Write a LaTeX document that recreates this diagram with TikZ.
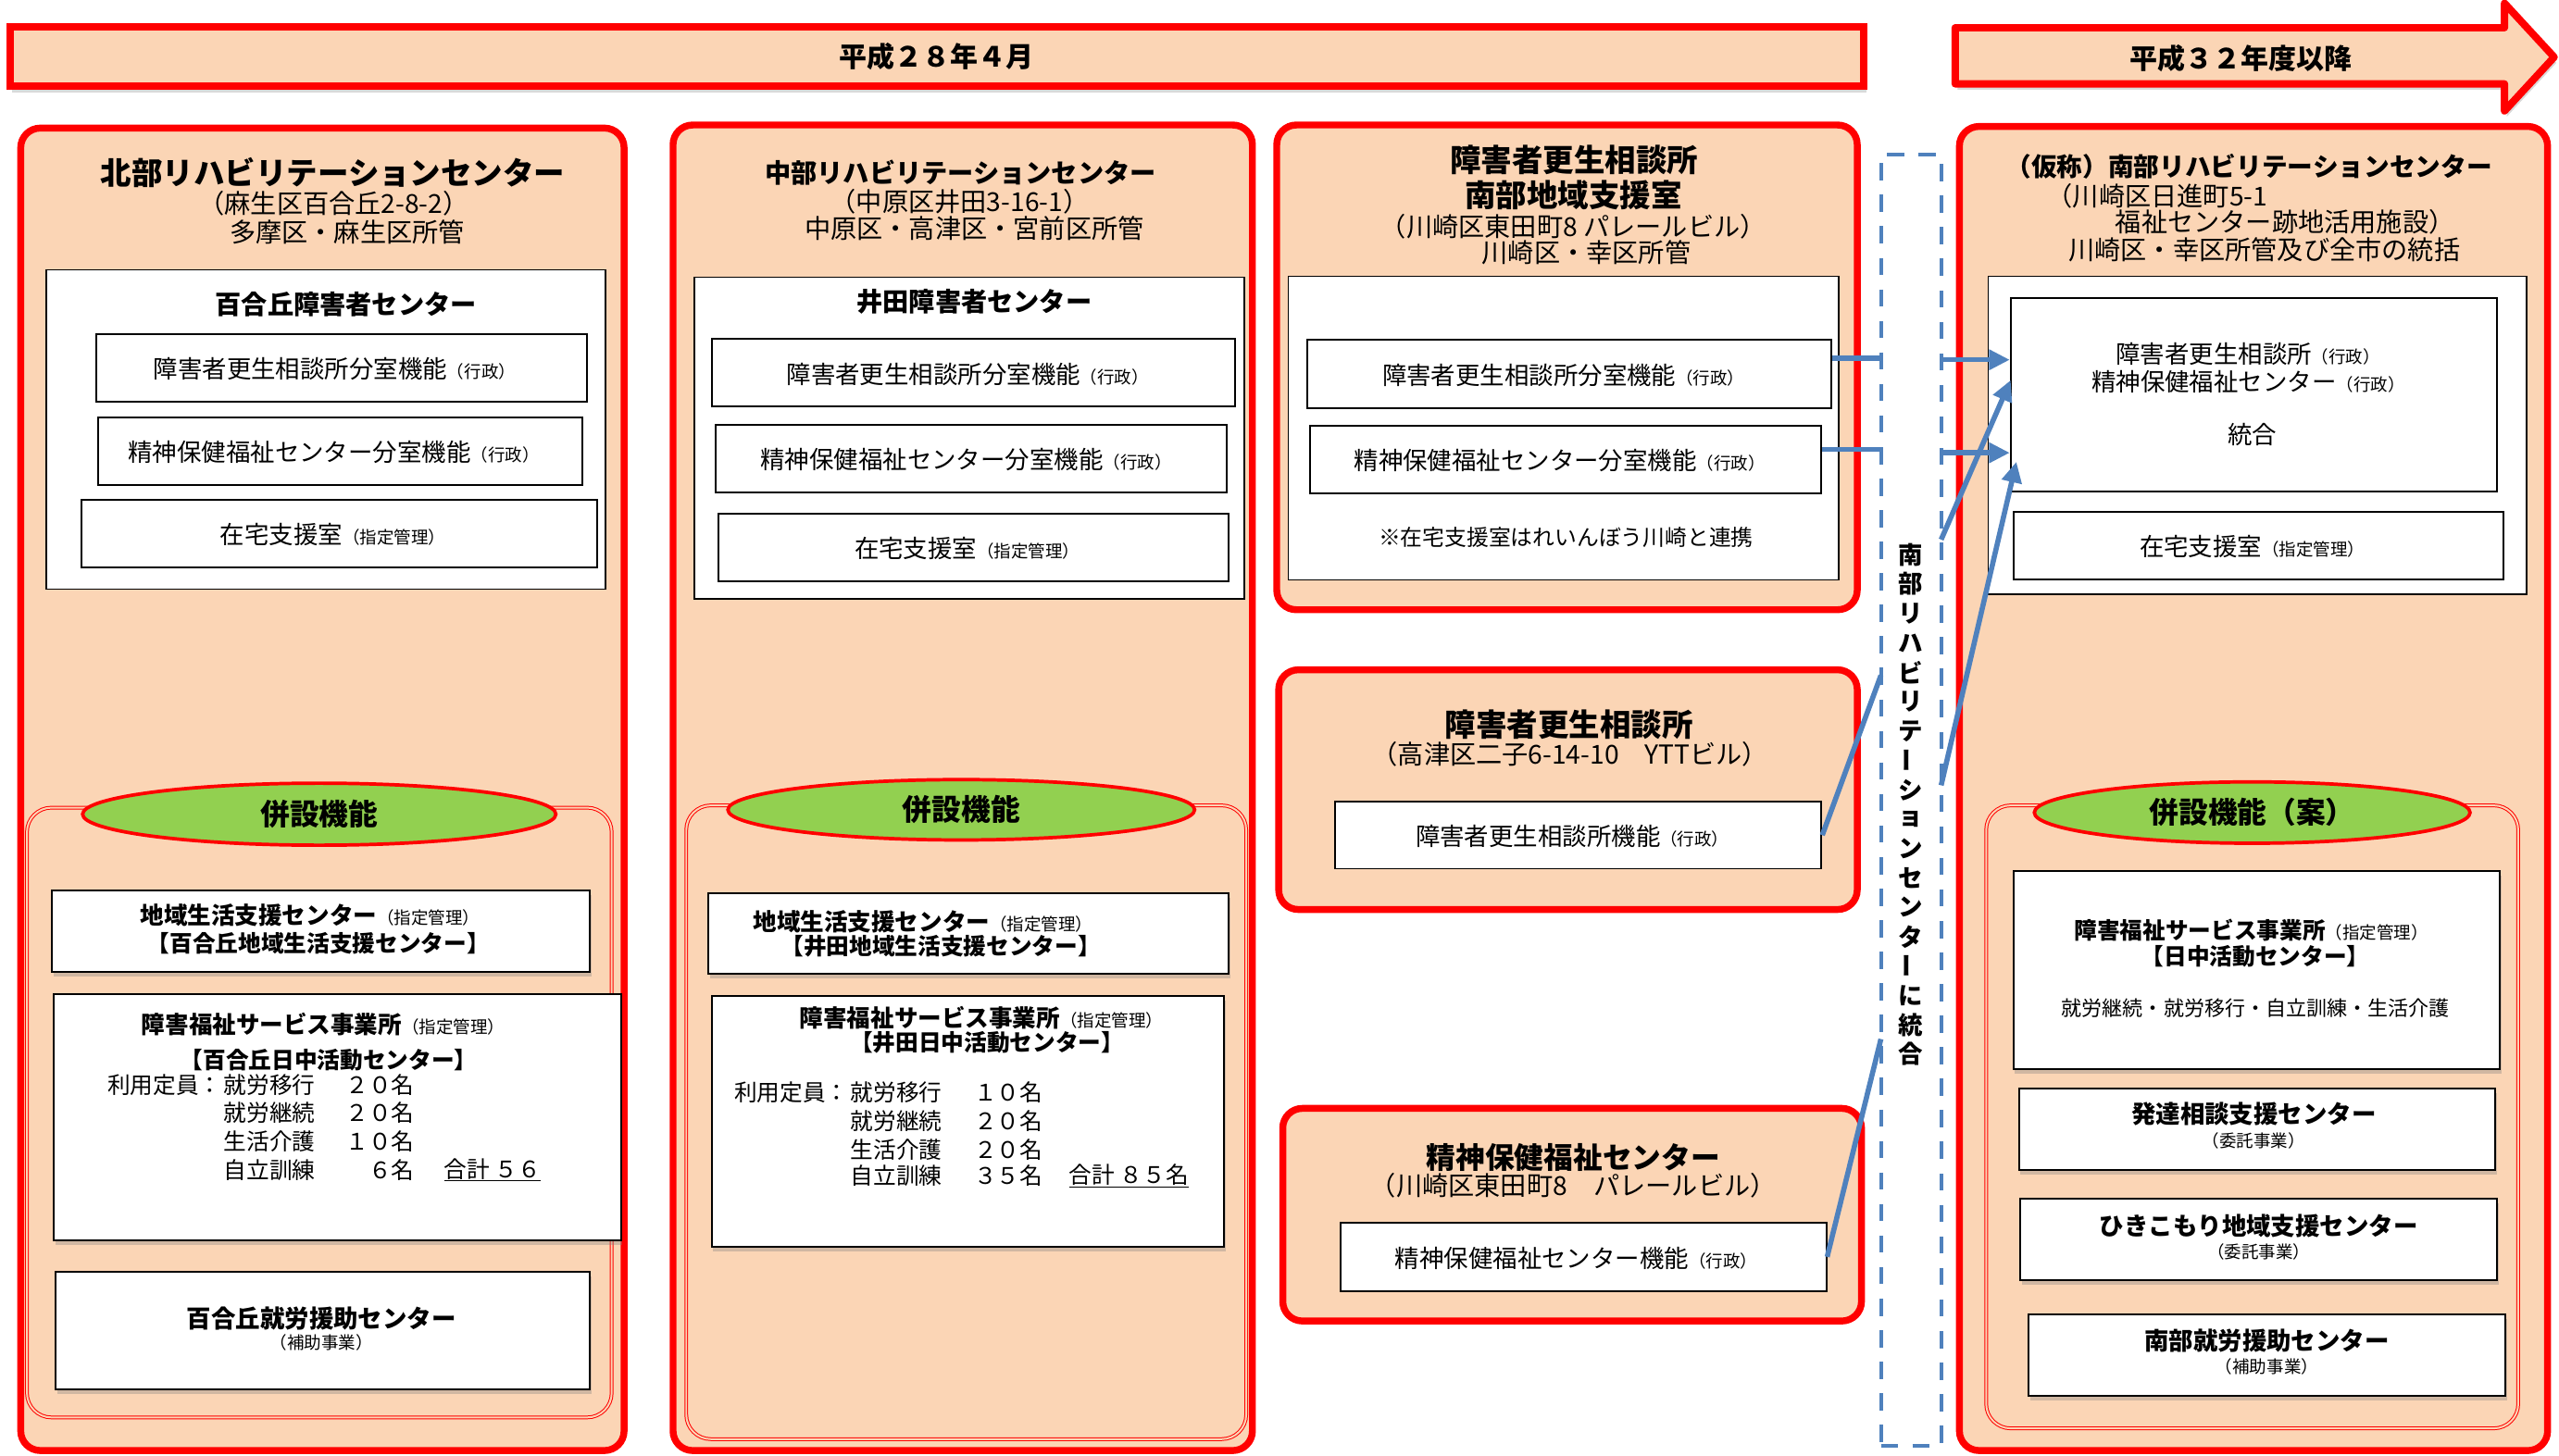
\documentclass[tikz,border=0pt]{standalone}
\usepackage{fontspec}
\setmainfont{Noto Sans CJK JP}
\usetikzlibrary{fit,shapes.geometric,shadows,arrows.meta}
\definecolor{peach}{RGB}{251,213,181}
\definecolor{leaf}{RGB}{146,208,80}
\definecolor{steel}{RGB}{79,129,189}
\newcommand\sz[1]{\fontsize{\fpeval{1.4226*#1}pt}{\fpeval{1.707*#1}pt}\selectfont}

\begin{document}
\begin{tikzpicture}
  [
  x=0.05cm, y=-0.05cm,
  panel/.style={draw=red, line width=6pt, fill=peach, rounded corners=0.6cm, inner sep=0pt},
  bar/.style={draw=red, line width=6.4pt, fill=peach, inner sep=0pt, drop shadow={shadow xshift=2pt, shadow yshift=-5pt, opacity=0.3}},
  sheet/.style={draw=black, line width=1.2pt, fill=white, inner sep=0pt},
  unit/.style={draw=black, line width=1.6pt, fill=white, inner sep=0pt},
  card/.style={unit, drop shadow={shadow xshift=1.5pt, shadow yshift=-4pt, opacity=0.35}},
  annex/.style={draw=red, double=peach, double distance=1.6pt, line width=0.8pt, rounded corners=0.75cm, inner sep=0pt},
  oval/.style={ellipse, draw=red, line width=3pt, fill=leaf, inner sep=0pt},
  txt/.style={inner sep=0pt, align=center},
  link/.style={draw=steel, line width=4.5pt},
  push/.style={link, -{Triangle[length=18pt,width=17pt]}},
  fence/.style={draw=steel, line width=3.2pt, dash pattern=on 15pt off 12.5pt, inner sep=0pt},
  ]

\useasboundingbox (0,0) rectangle (1568,892);

\node[bar, fit={(6,16.6) (1142,53)}] (now) {};
\node[txt, font=\bfseries\sz{17}] (nowt) at (now) {平成２８年４月};
\draw[bar, line join=round] (1198,17) -- (1534.6,17) -- (1534.6,2) -- (1565,35) -- (1534.6,68) -- (1534.6,51.4) -- (1198,51.4) -- cycle;
\node[txt, font=\bfseries\sz{17}] (latert) at (1373,36) {平成３２年度以降};

\node[panel, fit={(12.7,78.5) (382.4,889)}] (hk) {};
\node[txt, font=\bfseries\sz{19}] (hktitle) at (204,105.8) {北部リハビリテーションセンター};
\node[txt, font=\sz{16}] (hkaddr) at (204.5,124.5) {（麻生区百合丘2-8-2）};
\node[txt, font=\sz{16}] (hkarea) at (212.7,142.4) {多摩区・麻生区所管};
\node[sheet, fit={(28.4,165.5) (371,361.2)}] (hkcen) {};
\node[txt, font=\bfseries\sz{16}] (hkname) at (212,186.6) {百合丘障害者センター};
\node[unit, fit={(58.8,205) (359.6,246.4)}] (hksub1) {};
\node[txt, font=\sz{15}] (hksub1t) at (205,226) {障害者更生相談所分室機能{\sz{10.5}（行政）}};
\node[unit, fit={(60.3,255.9) (357,297.3)}] (hksub2) {};
\node[txt, font=\sz{15}] (hksub2t) at (204.5,277) {精神保健福祉センター分室機能{\sz{10.5}（行政）}};
\node[unit, fit={(50,306.6) (366,348)}] (hksub3) {};
\node[txt, font=\sz{15}] (hksub3t) at (204,327.7) {在宅支援室{\sz{10.5}（指定管理）}};
\node[annex, fit={(16.5,495) (374.8,868.7)}] (hkext) {};
\node[oval, minimum width=14.5cm, minimum height=1.9cm, font=\bfseries\sz{18}] (hkoval) at (195.6,499) {併設機能};
\node[card, fit={(31.7,545.6) (361.6,595.9)}] (hkloc) {};
\node[txt, font=\sz{14.5}] (hkloct) at (190,561) {\bfseries 地域生活支援センター\mdseries\sz{10.5}（指定管理）};
\node[txt, font=\bfseries\sz{14}] (hklocn) at (195,578.4) {【百合丘地域生活支援センター】};
\node[card, fit={(33,609) (380.4,760)}] (hkact) {};
\node[txt, font=\sz{14.5}] (hkactt) at (198,628) {\bfseries 障害福祉サービス事業所\mdseries\sz{10.5}（指定管理）};
\node[txt, font=\bfseries\sz{14}] (hkactn) at (201.5,649.6) {【百合丘日中活動センター】};
\node[txt, anchor=east, font=\sz{14}] (hkcap) at (136,665) {利用定員：};
\foreach \job/\num/\y [count=\i] in {就労移行/２０名/665, 就労継続/２０名/682, 生活介護/１０名/699.5, 自立訓練/６名/717} {
  \node[txt, anchor=west, font=\sz{14}] (hkjob\i) at (137,\y) {\job};
  \node[txt, anchor=east, font=\sz{14}] (hknum\i) at (254,\y) {\num};
}
\node[txt, anchor=west, font=\sz{14}] (hksum) at (272,717) {\underline{合計 ５６}};
\node[card, fit={(34,779.5) (361.6,851.3)}] (hkwork) {};
\node[txt, font=\bfseries\sz{15}] (hkworkt) at (197,808) {百合丘就労援助センター};
\node[txt, font=\sz{10.5}] (hkworkn) at (197,822.6) {（補助事業）};

\node[panel, fit={(412.4,76.6) (767.4,889)}] (cb) {};
\node[txt, font=\bfseries\sz{16}] (cbtitle) at (588.6,105.8) {中部リハビリテーションセンター};
\node[txt, font=\sz{16}] (cbaddr) at (588,123.6) {（中原区井田3-16-1）};
\node[txt, font=\sz{16}] (cbarea) at (597,140) {中原区・高津区・宮前区所管};
\node[sheet, fit={(425.4,170) (762.5,367)}] (cbcen) {};
\node[txt, font=\bfseries\sz{16}] (cbname) at (597,184.7) {井田障害者センター};
\node[unit, fit={(436.5,207.6) (756.8,249)}] (cbsub1) {};
\node[txt, font=\sz{15}] (cbsub1t) at (593,229.5) {障害者更生相談所分室機能{\sz{10.5}（行政）}};
\node[unit, fit={(438.5,260.4) (751.9,301.8)}] (cbsub2) {};
\node[txt, font=\sz{15}] (cbsub2t) at (592,281.5) {精神保健福祉センター分室機能{\sz{10.5}（行政）}};
\node[unit, fit={(440,315) (753,356)}] (cbsub3) {};
\node[txt, font=\sz{15}] (cbsub3t) at (592.6,336) {在宅支援室{\sz{10.5}（指定管理）}};
\node[annex, fit={(420.5,493.6) (763.6,882)}] (cbext) {};
\node[oval, minimum width=14.3cm, minimum height=1.85cm, font=\bfseries\sz{18}] (cboval) at (589,496.3) {併設機能};
\node[card, fit={(434,547.5) (752.6,597)}] (cbloc) {};
\node[txt, font=\sz{14.5}] (cbloct) at (565.5,565) {\bfseries 地域生活支援センター\mdseries\sz{10.5}（指定管理）};
\node[txt, font=\bfseries\sz{14}] (cblocn) at (576.5,580) {【井田地域生活支援センター】};
\node[card, fit={(436,610.6) (750,764)}] (cbact) {};
\node[txt, font=\sz{14.5}] (cbactt) at (601.3,624) {\bfseries 障害福祉サービス事業所\mdseries\sz{10.5}（指定管理）};
\node[txt, font=\bfseries\sz{14}] (cbactn) at (604.8,638.7) {【井田日中活動センター】};
\node[txt, anchor=east, font=\sz{14}] (cbcap) at (520,669.6) {利用定員：};
\foreach \job/\num/\y [count=\i] in {就労移行/１０名/669.6, 就労継続/２０名/687, 生活介護/２０名/704.5, 自立訓練/３５名/720.6} {
  \node[txt, anchor=west, font=\sz{14}] (cbjob\i) at (521,\y) {\job};
  \node[txt, anchor=east, font=\sz{14}] (cbnum\i) at (639,\y) {\num};
}
\node[txt, anchor=west, font=\sz{14}] (cbsum) at (655,720.6) {\underline{合計 ８５名}};

\node[panel, fit={(782.3,76.6) (1138,373.7)}] (nb) {};
\node[txt, font=\bfseries\sz{19}] (nbtitle) at (964.5,98) {障害者更生相談所};
\node[txt, font=\bfseries\sz{19}] (nbroom) at (964,119.8) {南部地域支援室};
\node[txt, font=\sz{16}] (nbaddr) at (964,138.7) {（川崎区東田町8 パレールビル）};
\node[txt, font=\sz{16}] (nbarea) at (972,154.7) {川崎区・幸区所管};
\node[sheet, fit={(789.3,169.3) (1126.7,355.5)}] (nbcen) {};
\node[unit, fit={(801.2,208.4) (1122,250)}] (nbsub1) {};
\node[txt, font=\sz{15}] (nbsub1t) at (958,229.8) {障害者更生相談所分室機能{\sz{10.5}（行政）}};
\node[unit, fit={(802.5,261) (1116,302.4)}] (nbsub2) {};
\node[txt, font=\sz{15}] (nbsub2t) at (955.7,282.4) {精神保健福祉センター分室機能{\sz{10.5}（行政）}};
\node[txt, font=\sz{13.5}] (nbnote) at (959.5,329.6) {※在宅支援室はれいんぼう川崎と連携};

\node[panel, fit={(783.5,410.5) (1138,557.4)}] (tk) {};
\node[txt, font=\bfseries\sz{19}] (tktitle) at (961.5,443.9) {障害者更生相談所};
\node[txt, font=\sz{16}] (tkaddr) at (962,462.2) {（高津区二子6-14-10　YTTビル）};
\node[unit, fit={(818.2,491.3) (1116,532.4)}] (tksub) {};
\node[txt, font=\sz{15}] (tksubt) at (963.4,512.3) {障害者更生相談所機能{\sz{10.5}（行政）}};

\node[panel, fit={(786,679.3) (1140.6,809.6)}] (sh) {};
\node[txt, font=\bfseries\sz{18}] (shtitle) at (964,709.4) {精神保健福祉センター};
\node[txt, font=\sz{16}] (shaddr) at (964,726.7) {（川崎区東田町8　パレールビル）};
\node[unit, fit={(821.5,749.4) (1119,791.2)}] (shsub) {};
\node[txt, font=\sz{15}] (shsubt) at (965.8,771.2) {精神保健福祉センター機能{\sz{10.5}（行政）}};

\node[fence, fit={(1152.5,95) (1189.4,886)}] (mg) {};
\foreach \ch [count=\i] in {南,部,リ,ハ,ビ,リ,テ,\rotatebox[origin=c]{90}{ー},シ,ョ,ン,セ,ン,タ,\rotatebox[origin=c]{90}{ー},に,統,合} {
  \node[txt, font=\bfseries\sz{15}] (mg\i) at (1170.5,322+18*\i) {\ch};
}

\node[panel, fit={(1200.6,77.5) (1561,889)}] (nr) {};
\node[txt, font=\bfseries\sz{15.7}] (nrtitle) at (1378,102) {（仮称）南部リハビリテーションセンター};
\node[txt, anchor=west, font=\sz{16}] (nraddr1) at (1254,119.9) {（川崎区日進町5-1};
\node[txt, anchor=west, font=\sz{16}] (nraddr2) at (1296,135.8) {福祉センター跡地活用施設）};
\node[txt, font=\sz{16}] (nrarea) at (1387.5,152.8) {川崎区・幸区所管及び全市の統括};
\node[sheet, fit={(1218.3,169.3) (1548,364.2)}] (nrcen) {};
\node[unit, fit={(1232,182.8) (1530,301.3)}] (nrjoint) {};
\node[txt, font=\sz{15}] (nrj1) at (1377.5,216.7) {障害者更生相談所{\sz{10.5}（行政）}};
\node[txt, font=\sz{15}] (nrj2) at (1377.6,233.7) {精神保健福祉センター{\sz{10.5}（行政）}};
\node[txt, font=\sz{15}] (nrj3) at (1380,266.6) {統合};
\node[unit, fit={(1233.6,313.6) (1534,355)}] (nrsub) {};
\node[txt, font=\sz{15}] (nrsubt) at (1380,335) {在宅支援室{\sz{10.5}（指定管理）}};
\node[annex, fit={(1217,493.6) (1543,875.4)}] (nrext) {};
\node[oval, minimum width=13.35cm, minimum height=1.88cm, font=\bfseries\sz{18}] (nroval) at (1380,498) {併設機能（案）};
\node[card, fit={(1233.6,534) (1531.7,655)}] (nract) {};
\node[txt, font=\sz{14}] (nractt) at (1379.5,570) {\bfseries 障害福祉サービス事業所\mdseries\sz{10.5}（指定管理）};
\node[txt, font=\bfseries\sz{14}] (nractn) at (1382,586) {【日中活動センター】};
\node[txt, font=\sz{12.5}] (nractl) at (1382,618) {就労継続・就労移行・自立訓練・生活介護};
\node[card, fit={(1237,667) (1529,716.8)}] (nrdev) {};
\node[txt, font=\bfseries\sz{15}] (nrdevt) at (1381,683) {発達相談支援センター};
\node[txt, font=\sz{10.5}] (nrdevn) at (1381,699.4) {（委託事業）};
\node[card, fit={(1238,734.6) (1530,784.6)}] (nrhik) {};
\node[txt, font=\bfseries\sz{15}] (nrhikt) at (1384,751.6) {ひきこもり地域支援センター};
\node[txt, font=\sz{10.5}] (nrhikn) at (1384,767.4) {（委託事業）};
\node[card, fit={(1243,805.6) (1535,855.3)}] (nrwork) {};
\node[txt, font=\bfseries\sz{15}] (nrworkt) at (1389,821.7) {南部就労援助センター};
\node[txt, font=\sz{10.5}] (nrworkn) at (1389,837.8) {（補助事業）};

\coordinate (mgin1) at (1152.5,219.4);
\coordinate (mgin2) at (1152.5,275.5);
\coordinate (mgin3) at (1152.5,413.9);
\coordinate (mgin4) at (1152.5,636.8);
\coordinate (mgout1) at (1189.4,220.5);
\coordinate (mgout2) at (1189.4,277.5);
\coordinate (mgout3) at (1189.4,330.7);
\coordinate (mgout4) at (1189.4,481.3);
\coordinate (nrin3) at (1232,233);
\coordinate (nrin4) at (1235.5,283);

\draw[link] (nbsub1.east |- mgin1) -- (mgin1);
\draw[link] (nbsub2.east |- mgin2) -- (mgin2);
\draw[link] (tksub.east) -- (mgin3);
\draw[link] (shsub.east) -- (mgin4);
\draw[push] (mgout1) -- (nrjoint.west |- mgout1);
\draw[push] (mgout2) -- (nrjoint.west |- mgout2);
\draw[push] (mgout3) -- (nrin3);
\draw[push] (mgout4) -- (nrin4);
\end{tikzpicture}
\end{document}
